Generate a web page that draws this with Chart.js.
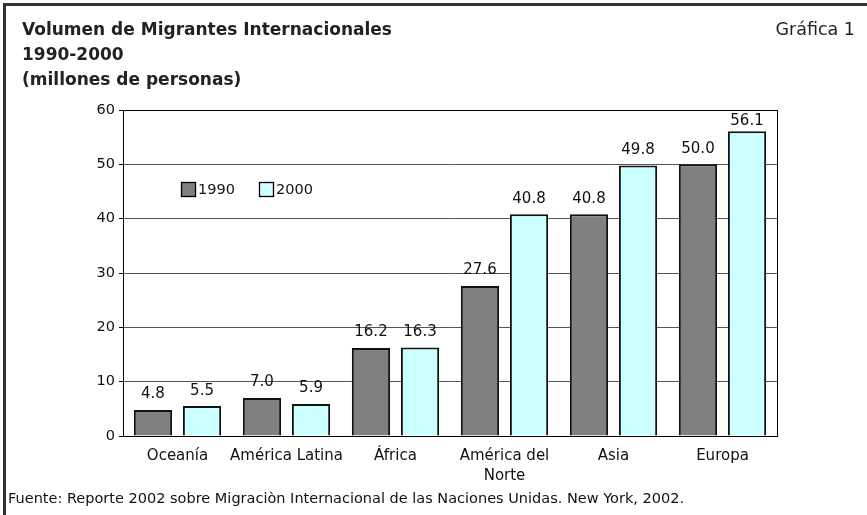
<!DOCTYPE html>
<html>
<head>
<meta charset="utf-8">
<script src="https://cdn.jsdelivr.net/npm/chart.js@4/dist/chart.umd.min.js"></script>
<style>
html,body{margin:0;padding:0;background:#fff;}
#wrap{position:relative;width:867px;height:515px;}
</style>
</head>
<body>
<div id="wrap"><canvas id="c" width="867" height="515"></canvas></div>
<script>
const categories = ['Oceanía', 'América Latina', 'África', ['América del', 'Norte'], 'Asia', 'Europa'];
const seriesNames = ['1990', '2000'];
const values1990 = [4.8, 7.0, 16.2, 27.6, 40.8, 50.0];
const values2000 = [5.5, 5.9, 16.3, 40.8, 49.8, 56.1];
const yTicks = [0, 10, 20, 30, 40, 50, 60];
const titleLines = ['Volumen de Migrantes Internacionales', '1990-2000', '(millones de personas)'];
const chartTag = 'Gráfica 1';
const sourceText = 'Fuente: Reporte 2002 sobre Migraciòn Internacional de las Naciones Unidas. New York, 2002.';

const FONT = '"DejaVu Sans", Verdana, sans-serif';
const colors = ['#808080', '#ccffff'];

const decor = {
  id: 'decor',
  beforeDraw(chart) {
    const ctx = chart.ctx;
    ctx.save();
    ctx.fillStyle = '#fff';
    ctx.fillRect(0, 0, chart.width, chart.height);
    ctx.restore();
  },
  afterDraw(chart) {
    const ctx = chart.ctx;
    const a = chart.chartArea;
    ctx.save();
    // frame
    ctx.fillStyle = '#333';
    ctx.fillRect(3, 3, chart.width - 3, 3);
    ctx.fillRect(3, 3, 3, chart.height - 3);
    // plot border
    ctx.strokeStyle = '#000';
    ctx.lineWidth = 1;
    ctx.strokeRect(Math.round(a.left) + 0.5, Math.round(a.top) + 0.5, Math.round(a.right - a.left), Math.round(a.bottom - a.top));
    // title
    ctx.fillStyle = '#222';
    ctx.textBaseline = 'alphabetic';
    ctx.textAlign = 'left';
    ctx.font = 'bold 17px ' + FONT;
    titleLines.forEach((t, i) => ctx.fillText(t, 22, 35 + i * 25));
    ctx.font = '17.5px ' + FONT;
    ctx.textAlign = 'right';
    ctx.fillText(chartTag, 855, 35);
    ctx.textAlign = 'left';
    ctx.font = '14.5px ' + FONT;
    ctx.fillStyle = '#111';
    ctx.fillText(sourceText, 8, 503);
    // legend
    ctx.font = '14.5px ' + FONT;
    ctx.textBaseline = 'middle';
    const lx = [181, 259];
    chart.data.datasets.forEach((ds, i) => {
      ctx.fillStyle = ds.backgroundColor;
      ctx.fillRect(lx[i] + 0.5, 182.5, 14, 14);
      ctx.strokeStyle = '#000';
      ctx.lineWidth = 1.3;
      ctx.strokeRect(lx[i] + 0.5, 182.5, 14, 14);
      ctx.fillStyle = '#111';
      ctx.fillText(ds.label, lx[i] + 17, 190);
    });
    // data labels
    ctx.font = '15px ' + FONT;
    ctx.textAlign = 'center';
    ctx.textBaseline = 'bottom';
    ctx.fillStyle = '#111';
    chart.data.datasets.forEach((ds, i) => {
      const meta = chart.getDatasetMeta(i);
      meta.data.forEach((el, j) => {
        const y = Math.max(el.y - 8, a.top + 19);
        ctx.fillText(ds.data[j].toFixed(1), el.x, y);
      });
    });
    ctx.restore();
  }
};

new Chart(document.getElementById('c'), {
  type: 'bar',
  data: {
    labels: categories,
    datasets: [
      { label: seriesNames[0], data: values1990, backgroundColor: colors[0], borderColor: '#111', borderWidth: 2 },
      { label: seriesNames[1], data: values2000, backgroundColor: colors[1], borderColor: '#111', borderWidth: 2 }
    ]
  },
  options: {
    responsive: false,
    animation: false,
    devicePixelRatio: 1,
    layout: { padding: { left: 0, right: 90, top: 110, bottom: 0 } },
    datasets: { bar: { categoryPercentage: 0.9, barPercentage: 0.78 } },
    plugins: { legend: { display: false }, title: { display: false }, tooltip: { enabled: false } },
    scales: {
      x: {
        grid: { display: false, drawTicks: false },
        border: { display: false },
        ticks: { color: '#111', font: { family: FONT, size: 15, lineHeight: 1.35 }, padding: 10, maxRotation: 0, autoSkip: false },
        afterFit(s) { s.height = 79; }
      },
      y: {
        min: 0, max: 60,
        afterBuildTicks(s) { s.ticks = yTicks.map(v => ({ value: v })); },
        grid: { color: '#555', tickColor: '#000', tickLength: 4, lineWidth: 1 },
        border: { color: '#000' },
        ticks: { color: '#111', font: { family: FONT, size: 14.5 }, padding: 4 },
        afterFit(s) { s.width = 123; }
      }
    }
  },
  plugins: [decor]
});
</script>
</body>
</html>
